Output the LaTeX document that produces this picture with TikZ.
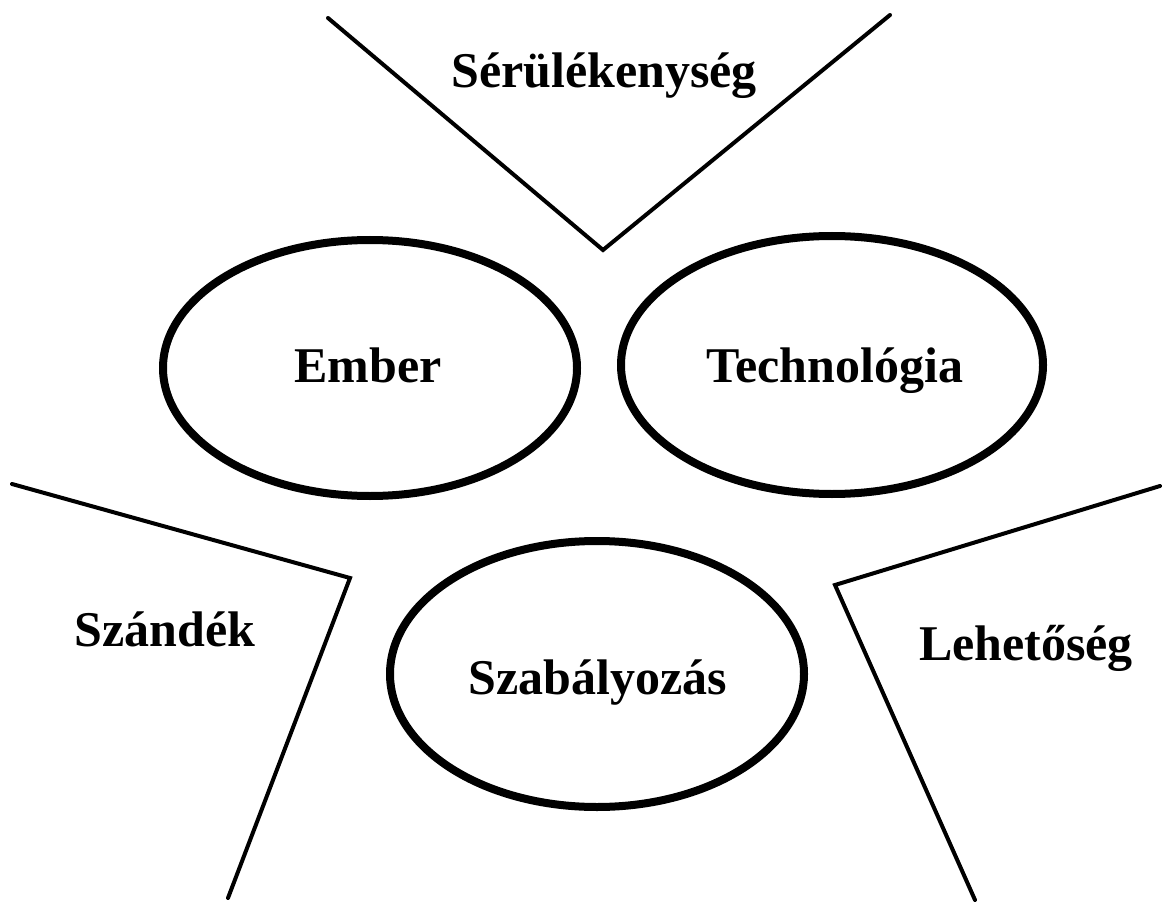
\documentclass[tikz,border=0pt]{standalone}
\usepackage{fontspec}
\setmainfont{Liberation Serif}
\usetikzlibrary{shapes.geometric}
\begin{document}
\begin{tikzpicture}[x=1pt,y=-1pt,
  lbl/.style={font=\fontsize{50}{60}\selectfont\bfseries, anchor=base, inner sep=0pt},
  oval/.style={draw, line width=8pt, ellipse, minimum width=#1, inner sep=0pt},
  thin/.style={draw, line width=4pt, line join=miter, line cap=round}]
\useasboundingbox (0,0) rectangle (1162,904);
% ellipses
\draw[line width=8pt] (370,368) ellipse [x radius=207, y radius=128];
\draw[line width=8pt] (832,365) ellipse [x radius=211, y radius=129];
\draw[line width=8pt] (597,674) ellipse [x radius=207, y radius=133];
% connectors
\coordinate (v1) at (328,18);
\coordinate (v2) at (603,250);
\coordinate (v3) at (890,15);
\coordinate (l1) at (12,484);
\coordinate (l2) at (350,578);
\coordinate (l3) at (228,898);
\coordinate (r1) at (1160,486);
\coordinate (r2) at (835,585);
\coordinate (r3) at (975,900);
\draw[thin] (v1) -- (v2) -- (v3);
\draw[thin] (l1) -- (l2) -- (l3);
\draw[thin] (r1) -- (r2) -- (r3);
% labels
\node[lbl] (sr) at (604,88) {Sérülékenység};
\node[lbl] (em) at (368,382) {Ember};
\node[lbl] (te) at (835,382) {Technológia};
\node[lbl] (sz) at (598,694) {Szabályozás};
\node[lbl] (sd) at (165,646) {Szándék};
\node[lbl] (le) at (1026,660) {Lehetőség};
\end{tikzpicture}
\end{document}
